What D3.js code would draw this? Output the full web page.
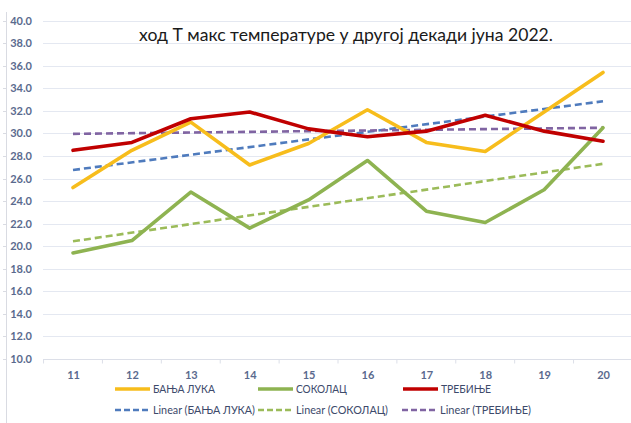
<!DOCTYPE html>
<html>
<head>
<meta charset="utf-8">
<script src="https://cdn.jsdelivr.net/npm/d3@7/dist/d3.min.js"></script>
<style>
  html, body { margin: 0; padding: 0; background: #ffffff; }
  svg { display: block; font-family: Lato, "Open Sans", sans-serif; }
</style>
</head>
<body>
<svg id="chart" width="631" height="423"></svg>
<script>
// Days of the second decade of June 2022
const days = [11, 12, 13, 14, 15, 16, 17, 18, 19, 20];

// Daily maximum temperatures (°C)
const banjaLuka = [25.2, 28.5, 31.0, 27.2, 29.1, 32.1, 29.2, 28.4, 31.9, 35.4];
const sokolac   = [19.4, 20.5, 24.8, 21.6, 24.1, 27.6, 23.1, 22.1, 25.0, 30.5];
const trebinje  = [28.5, 29.2, 31.3, 31.9, 30.4, 29.7, 30.2, 31.6, 30.2, 29.3];

const seriesNames = ["БАЊА ЛУКА", "СОКОЛАЦ", "ТРЕБИЊЕ"];
const yTicks = [10, 12, 14, 16, 18, 20, 22, 24, 26, 28, 30, 32, 34, 36, 38, 40];
const title = "ход Т макс  температуре у другој декади јуна 2022.";

const series = [
  { name: seriesNames[0], values: banjaLuka, color: "#f7bd1c", trend: "#4f7bbd" },
  { name: seriesNames[1], values: sokolac,   color: "#8eb351", trend: "#9bbb59" },
  { name: seriesNames[2], values: trebinje,  color: "#c00000", trend: "#8064a2" }
];

// Least-squares linear trend for a series
function linearFit(xs, ys) {
  const n = xs.length;
  const mx = d3.mean(xs), my = d3.mean(ys);
  let sxy = 0, sxx = 0;
  for (let i = 0; i < n; i++) {
    sxy += (xs[i] - mx) * (ys[i] - my);
    sxx += (xs[i] - mx) * (xs[i] - mx);
  }
  const b = sxy / sxx;
  const a = my - b * mx;
  return x => a + b * x;
}

const svg = d3.select("#chart");

const x = d3.scaleLinear().domain([11, 20]).range([73, 603]);
const y = d3.scaleLinear().domain([10, 40]).range([359, 20.6]);

const gridLeft = 43, gridRight = 631;

// Faint outer vertical rule with small ticks
const rule = svg.append("g").attr("stroke", "#d9dbe2").attr("stroke-width", 1);
rule.append("line").attr("x1", 6.5).attr("x2", 6.5).attr("y1", 12).attr("y2", 423);
rule.selectAll("line.tk").data(yTicks).join("line").attr("class", "tk")
  .attr("x1", 3).attr("x2", 6.5)
  .attr("y1", d => Math.round(y(d)) + 0.5).attr("y2", d => Math.round(y(d)) + 0.5);

// Horizontal gridlines
svg.append("g").selectAll("line").data(yTicks.filter(d => d > 10)).join("line")
  .attr("x1", gridLeft).attr("x2", gridRight)
  .attr("y1", d => Math.round(y(d)) + 0.5).attr("y2", d => Math.round(y(d)) + 0.5)
  .attr("stroke", "#e4e8f1").attr("stroke-width", 1);

// Category axis line with ticks between days
const xAxisY = Math.round(y(10)) + 0.5;
svg.append("line").attr("x1", gridLeft).attr("x2", gridRight)
  .attr("y1", xAxisY).attr("y2", xAxisY)
  .attr("stroke", "#dcdfe8").attr("stroke-width", 1);
svg.append("g").selectAll("line").data(d3.range(10.5, 21, 1)).join("line")
  .attr("x1", d => x(d)).attr("x2", d => x(d))
  .attr("y1", xAxisY).attr("y2", xAxisY + 4)
  .attr("stroke", "#dcdfe8").attr("stroke-width", 1);

// Value axis labels
const yAxis = d3.axisLeft(y).tickValues(yTicks).tickSize(0).tickPadding(4)
  .tickFormat(d3.format(".1f"));
const gy = svg.append("g").attr("transform", "translate(36,0)").call(yAxis);
gy.select(".domain").remove();
gy.selectAll("text").attr("fill", "#5a6a8e").attr("font-size", 11)
  .attr("font-weight", 700).attr("font-family", "Lato, sans-serif");

// Day labels
const xAxis = d3.axisBottom(x).tickValues(days).tickSize(0).tickPadding(0)
  .tickFormat(d3.format("d"));
const gx = svg.append("g").attr("transform", "translate(0,371)").call(xAxis);
gx.select(".domain").remove();
gx.selectAll("text").attr("fill", "#5a6a8e").attr("font-size", 11)
  .attr("font-weight", 700).attr("font-family", "Lato, sans-serif");

// Trend lines
const trendLine = d3.line().x(d => x(d[0])).y(d => y(d[1]));
series.forEach(s => {
  const f = linearFit(days, s.values);
  svg.append("path")
    .datum([[days[0], f(days[0])], [days[days.length - 1], f(days[days.length - 1])]])
    .attr("d", trendLine)
    .attr("fill", "none").attr("stroke", s.trend)
    .attr("stroke-width", 2.6).attr("stroke-dasharray", "7,4");
});

// Temperature lines
const line = d3.line().x((d, i) => x(days[i])).y(d => y(d));
series.forEach(s => {
  svg.append("path").datum(s.values).attr("d", line)
    .attr("fill", "none").attr("stroke", s.color)
    .attr("stroke-width", 3.6).attr("stroke-linejoin", "round")
    .attr("stroke-linecap", "round");
});

// Title
svg.append("text").attr("x", 346).attr("y", 41)
  .attr("text-anchor", "middle").attr("fill", "#1a1a1a")
  .attr("font-size", 17.6).attr("font-family", "Lato, sans-serif")
  .text(title);

// Legend
const legendText = "#3d4a6b";
const legendRows = [
  { y: 389, items: series.map((s, i) => ({ label: s.name, color: s.color, dash: null, x: [115, 258, 403][i], w: [62, 51, 50][i] })) },
  { y: 410, items: series.map((s, i) => ({ label: "Linear (" + s.name + ")", color: s.trend, dash: "6,3", x: [115, 258, 402][i], w: [102, 92, 91][i] })) }
];
legendRows.forEach(row => {
  const g = svg.append("g");
  row.items.forEach(it => {
    g.append("line").attr("x1", it.x).attr("x2", it.x + 35)
      .attr("y1", row.y).attr("y2", row.y)
      .attr("stroke", it.color)
      .attr("stroke-width", it.dash ? 2.4 : 3.6)
      .attr("stroke-dasharray", it.dash);
    g.append("text").attr("x", it.x + 38).attr("y", row.y + 4)
      .attr("fill", legendText).attr("font-size", 11)
      .attr("font-family", "Lato, sans-serif")
      .attr("textLength", it.w).attr("lengthAdjust", "spacingAndGlyphs")
      .text(it.label);
  });
});
</script>
</body>
</html>
